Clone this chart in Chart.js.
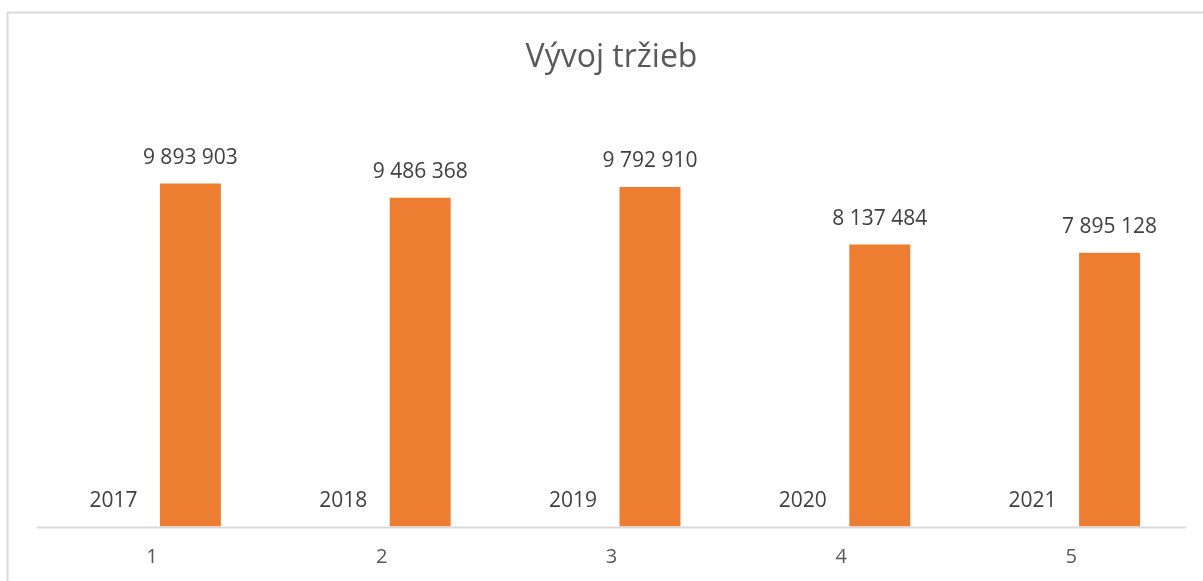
<!DOCTYPE html>
<html>
<head>
<meta charset="utf-8">
<script src="https://cdn.jsdelivr.net/npm/chart.js@4/dist/chart.umd.min.js"></script>
<style>
  html, body { margin: 0; padding: 0; background: #ffffff; }
  #wrap { position: absolute; left: 0; top: 0; width: 1203px; height: 581px; }
</style>
</head>
<body>
<div id="wrap"><canvas id="c" width="1203" height="581"></canvas></div>
<script>
const chartTitle = 'Vývoj tržieb';
const categories = ['1', '2', '3', '4', '5'];
const years = [2017, 2018, 2019, 2020, 2021];
const revenues = [9893903, 9486368, 9792910, 8137484, 7895128];
const yMax = 12000000;

const FONT = "'Open Sans', 'Liberation Sans', sans-serif";

function fmtSpaces(v) {
  return String(Math.round(v)).replace(/\B(?=(\d{3})+(?!\d))/g, ' ');
}

const borderPlugin = {
  id: 'chartBorder',
  beforeDraw(chart) {
    const ctx = chart.ctx;
    ctx.save();
    ctx.fillStyle = '#ffffff';
    ctx.fillRect(0, 0, chart.width, chart.height);
    ctx.strokeStyle = '#D9D9D9';
    ctx.lineWidth = 2;
    ctx.beginPath();
    ctx.moveTo(7.5, chart.height + 5);
    ctx.lineTo(7.5, 12.5);
    ctx.lineTo(chart.width + 5, 12.5);
    ctx.stroke();
    ctx.restore();
  },
  beforeDatasetsDraw(chart) {
    const ctx = chart.ctx;
    const a = chart.chartArea;
    ctx.save();
    ctx.strokeStyle = '#D9D9D9';
    ctx.lineWidth = 2;
    ctx.beginPath();
    ctx.moveTo(a.left, a.bottom + 1);
    ctx.lineTo(a.right, a.bottom + 1);
    ctx.stroke();
    ctx.restore();
  }
};

const labelPlugin = {
  id: 'valueLabels',
  afterDatasetsDraw(chart) {
    const ctx = chart.ctx;
    ctx.save();
    ctx.font = '21px ' + FONT;
    ctx.fillStyle = '#404040';
    ctx.textAlign = 'center';
    ctx.textBaseline = 'middle';
    chart.data.datasets.forEach((ds, di) => {
      const meta = chart.getDatasetMeta(di);
      meta.data.forEach((el, i) => {
        const v = ds.data[i];
        const txt = ds.fmt === 'plain' ? String(v) : fmtSpaces(v);
        ctx.fillText(txt, el.x, el.y - 25.5);
      });
    });
    ctx.restore();
  }
};

new Chart(document.getElementById('c'), {
  type: 'bar',
  data: {
    labels: categories,
    datasets: [
      { label: 'Rok', data: years, fmt: 'plain', backgroundColor: '#4472C4',
        categoryPercentage: 0.67, barPercentage: 0.792 },
      { label: 'Tržby', data: revenues, fmt: 'spaces', backgroundColor: '#ED7D31',
        categoryPercentage: 0.67, barPercentage: 0.792 }
    ]
  },
  options: {
    responsive: false,
    animation: false,
    layout: { padding: { left: 37, right: 17, top: 28.8, bottom: 0 } },
    plugins: {
      legend: { display: false },
      tooltip: { enabled: false },
      title: {
        display: true,
        text: chartTitle,
        color: '#595959',
        font: { family: FONT, size: 32, weight: 'normal' },
        padding: { top: 10, bottom: 33.3 }
      }
    },
    scales: {
      x: {
        grid: { display: false, drawTicks: false },
        border: { display: false },
        ticks: { color: '#595959', font: { family: FONT, size: 20 }, padding: 18.5 },
        afterFit(scale) { scale.height = 54.5; }
      },
      y: {
        display: false,
        min: 0,
        max: yMax
      }
    }
  },
  plugins: [borderPlugin, labelPlugin]
});
</script>
</body>
</html>
